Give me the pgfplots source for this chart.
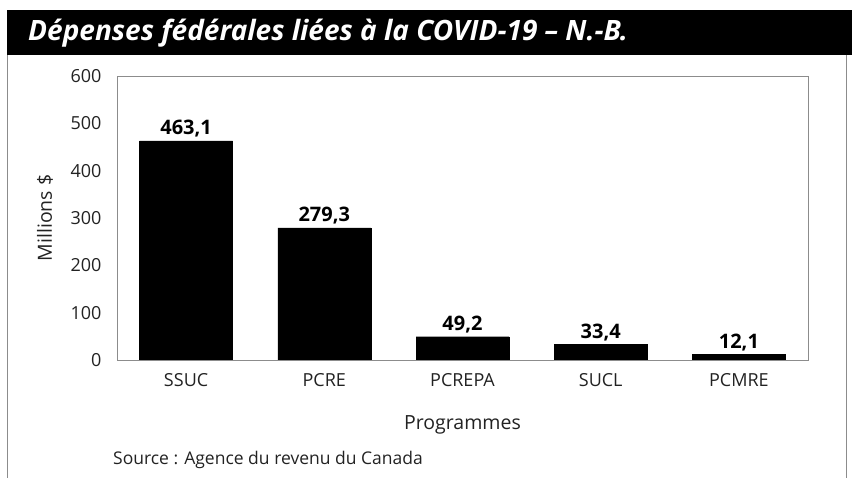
\documentclass[border=0pt]{standalone}
\usepackage{fontspec}
\setmainfont{Open Sans}
\usepackage{pgfplots}
\pgfplotsset{compat=1.18}
\definecolor{frame}{HTML}{8C8C8C}
\definecolor{txt}{HTML}{222222}
\begin{document}
\begin{tikzpicture}[x=1bp,y=1bp]
\path[use as bounding box] (0,0) rectangle (852,478);
% title bar and side borders
\fill[black] (7,423) rectangle (852,468);
\draw[frame,line width=1bp] (7.5,423) -- (7.5,0);
\draw[frame,line width=1bp] (846.5,423) -- (846.5,0);
\node[anchor=west,text=white,inner sep=0pt,font=\fontsize{28bp}{32bp}\selectfont\bfseries\itshape] at (28,445) {Dépenses fédérales liées à la COVID-19 – N.-B.};
\begin{axis}[
  at={(117bp,118bp)}, anchor=south west,
  scale only axis, width=691bp, height=284bp,
  ybar, bar width=93bp,
  xmin=-0.5, xmax=4.5, ymin=0, ymax=600,
  ytick={0,100,...,600},
  xtick=data,
  xticklabels={SSUC,PCRE,PCREPA,SUCL,PCMRE},
  major tick length=0pt,
  axis line style={frame, line width=0.8bp},
  /pgf/number format/assume math mode=true,
  tick label style={font=\fontsize{18bp}{21bp}\selectfont, text=txt},
  yticklabel style={xshift=-12bp},
  xticklabel style={yshift=-10bp},
  ylabel={Millions \$},
  ylabel style={font=\fontsize{19.5bp}{23bp}\selectfont, text=txt, at={(axis description cs:-0.104,0.5)}, anchor=center},
  xlabel={Programmes},
  xlabel style={font=\fontsize{19.5bp}{23bp}\selectfont, text=txt, at={(axis description cs:0.5,-0.229)}, anchor=center},
  nodes near coords,
  nodes near coords style={font=\fontsize{20bp}{23bp}\selectfont\bfseries, text=black,
    /pgf/number format/.cd, fixed, fixed zerofill, precision=1, use comma, assume math mode=true},
  enlarge y limits=false,
]
\addplot[fill=black, draw=black] coordinates {(0,463.1) (1,279.3) (2,49.2) (3,33.4) (4,12.1)};
\end{axis}
\node[anchor=west,inner sep=0pt,text=txt,font=\fontsize{17.5bp}{21bp}\selectfont] at (113,18) {Source : Agence du revenu du Canada};
\end{tikzpicture}
\end{document}
